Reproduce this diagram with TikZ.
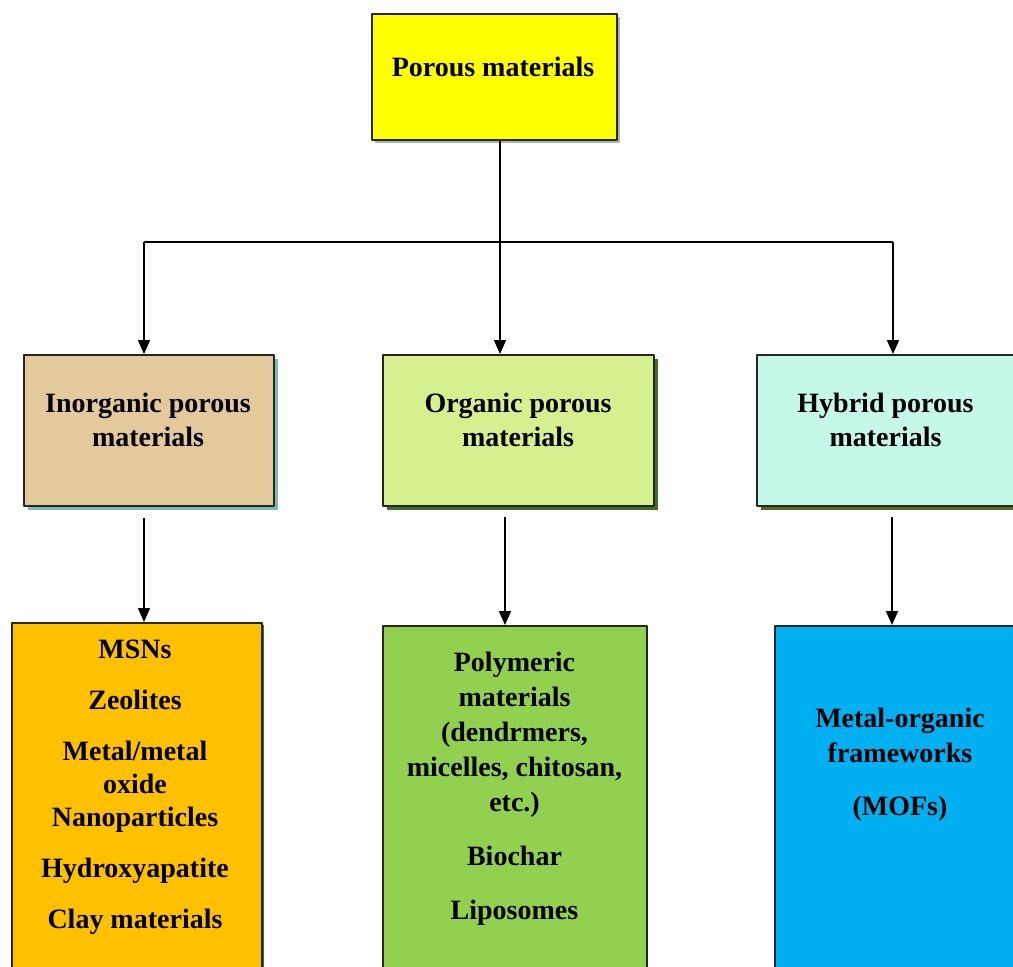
\documentclass[tikz,border=0pt]{standalone}
\usepackage{fontspec}
\setmainfont{Liberation Serif}
\usetikzlibrary{arrows.meta,shadows}
\definecolor{topyellow}{HTML}{FFFF00}
\definecolor{inorgtan}{HTML}{E4C99D}
\definecolor{orglime}{HTML}{D6F08F}
\definecolor{hybmint}{HTML}{C6F8EA}
\definecolor{inorgorange}{HTML}{FFC000}
\definecolor{orggreen}{HTML}{92D050}
\definecolor{hybblue}{HTML}{00B0F0}
\definecolor{shadowgrey}{HTML}{A8B89C}
\definecolor{shadowteal}{HTML}{7FB8B8}
\definecolor{shadowgreen}{HTML}{3C7028}
\definecolor{shadowolive}{HTML}{5A6620}
\tikzset{
	box/.style={draw=black!85,line width=0.85pt,anchor=north west,inner sep=0pt},
	boxshadow/.style={general shadow={fill=#1,shadow xshift=2pt,shadow yshift=-2pt}},
	txt/.style={anchor=north,inner sep=0pt,align=center},
	link/.style={line width=0.85pt},
	arr/.style={link,-{Triangle[width=6pt,length=7pt]}}
}
\begin{document}
\begin{tikzpicture}[x=0.5pt,y=-0.5pt,line join=round,font=\bfseries\fontsize{14}{17}\selectfont]
	\useasboundingbox (0,0) rectangle (1013,966);
	\clip (0,0) rectangle (1013,966);
	
	% boxes
	\node[box,general shadow={fill=shadowgrey,shadow xshift=1.5pt,shadow yshift=-1.5pt},fill=topyellow,minimum width=122.5pt,minimum height=63pt] (top) at (371,13) {};
	
	\node[box,boxshadow=shadowteal,fill=inorgtan,minimum width=125pt,minimum height=75.5pt] (inorg) at (23,354) {};
	\node[box,boxshadow=shadowgreen,fill=orglime,minimum width=135.5pt,minimum height=75.5pt] (org) at (382,354) {};
	\node[box,boxshadow=shadowolive,fill=hybmint,minimum width=140pt,minimum height=75.5pt] (hyb) at (756,354) {};
	
	\node[box,general shadow={fill=shadowgreen,shadow xshift=1.2pt,shadow yshift=-1.2pt},fill=inorgorange,minimum width=125pt,minimum height=180pt] (inorgB) at (11,622) {};
	\node[box,fill=orggreen,minimum width=132pt,minimum height=180pt] (orgB) at (382,625) {};
	\node[box,fill=hybblue,minimum width=130pt,minimum height=180pt] (hybB) at (774,625) {};
	
	% texts
	\node[txt] (topT) at (493,57) {Porous materials};
	\node[txt] (inorgT) at (148,393) {Inorganic porous\\materials};
	\node[txt] (orgT) at (518,393) {Organic porous\\materials};
	\node[txt] (hybT) at (885.5,393) {Hybrid porous\\materials};
	
	\node[txt,font=\bfseries\fontsize{14}{16.5}\selectfont] (inorgL) at (135,640)
		{MSNs\\[9pt]Zeolites\\[9pt]Metal/metal\\oxide\\Nanoparticles\\[9pt]Hydroxyapatite\\[9pt]Clay materials};
	\node[txt,font=\bfseries\fontsize{14}{17.5}\selectfont] (orgL) at (514.5,652)
		{Polymeric\\materials\\(dendrmers,\\micelles, chitosan,\\etc.)\\[9.5pt]Biochar\\[9.5pt]Liposomes};
	\node[txt,font=\bfseries\fontsize{14}{17.5}\selectfont] (hybL) at (900,708)
		{Metal-organic\\frameworks\\[9pt](MOFs)};
	
	% connectors
	\coordinate (split) at (500,242);
	\coordinate (barL) at (144,242);
	\coordinate (barR) at (893,242);
	\coordinate (dL) at (144,518);
	\coordinate (dM) at (505,517);
	\coordinate (dR) at (892,517);
	
	\draw[link] (top.south -| split) -- (split);
	\draw[link] (barL) -- (barR);
	\draw[arr] (barL) -- (barL |- inorg.north);
	\draw[arr] (split) -- (split |- org.north);
	\draw[arr] (barR) -- (barR |- hyb.north);
	
	\draw[arr] (dL) -- (dL |- inorgB.north);
	\draw[arr] (dM) -- (dM |- orgB.north);
	\draw[arr] (dR) -- (dR |- hybB.north);
\end{tikzpicture}
\end{document}
